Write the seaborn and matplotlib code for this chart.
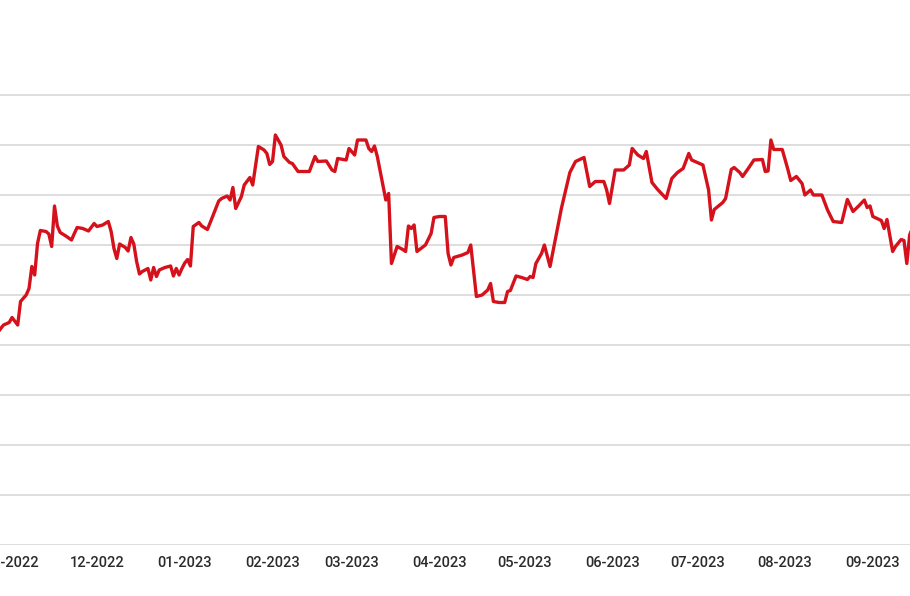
import pandas as pd
import matplotlib
matplotlib.use('Agg')
import matplotlib.pyplot as plt
import matplotlib.dates as mdates
import seaborn as sns

# closing values (arbitrary units, gridline step = 10)
dates = [
    '2022-10-27', '2022-10-28', '2022-10-29', '2022-10-31', '2022-11-01', '2022-11-03', '2022-11-04',
    '2022-11-06', '2022-11-07', '2022-11-08', '2022-11-09', '2022-11-10', '2022-11-11',
    '2022-11-13', '2022-11-14', '2022-11-15', '2022-11-16', '2022-11-17', '2022-11-18',
    '2022-11-20', '2022-11-22', '2022-11-23', '2022-11-24', '2022-11-26', '2022-11-28',
    '2022-11-30', '2022-12-01', '2022-12-03', '2022-12-05', '2022-12-06', '2022-12-07',
    '2022-12-08', '2022-12-09', '2022-12-11', '2022-12-12', '2022-12-13', '2022-12-14',
    '2022-12-15', '2022-12-16', '2022-12-17', '2022-12-19', '2022-12-20', '2022-12-21',
    '2022-12-22', '2022-12-23', '2022-12-25', '2022-12-27', '2022-12-28', '2022-12-29',
    '2022-12-30', '2022-12-31', '2023-01-01', '2023-01-02', '2023-01-03', '2023-01-04',
    '2023-01-06', '2023-01-07', '2023-01-09', '2023-01-10', '2023-01-13', '2023-01-14',
    '2023-01-16', '2023-01-17', '2023-01-18', '2023-01-19', '2023-01-21', '2023-01-22',
    '2023-01-24', '2023-01-25', '2023-01-27', '2023-01-29', '2023-01-30', '2023-01-31',
    '2023-02-01', '2023-02-02', '2023-02-04', '2023-02-05', '2023-02-07', '2023-02-08',
    '2023-02-10', '2023-02-14', '2023-02-16', '2023-02-17', '2023-02-20', '2023-02-22',
    '2023-02-23', '2023-02-24', '2023-02-27', '2023-02-28', '2023-03-02', '2023-03-03',
    '2023-03-06', '2023-03-07', '2023-03-08', '2023-03-09', '2023-03-10', '2023-03-13',
    '2023-03-14', '2023-03-15', '2023-03-17', '2023-03-19', '2023-03-20', '2023-03-21',
    '2023-03-22', '2023-03-23', '2023-03-24', '2023-03-27', '2023-03-29', '2023-03-30',
    '2023-04-01', '2023-04-03', '2023-04-04', '2023-04-05', '2023-04-06', '2023-04-09',
    '2023-04-11', '2023-04-12', '2023-04-14', '2023-04-16', '2023-04-18', '2023-04-19',
    '2023-04-20', '2023-04-22', '2023-04-24', '2023-04-25', '2023-04-26', '2023-04-28',
    '2023-04-30', '2023-05-02', '2023-05-03', '2023-05-04', '2023-05-05', '2023-05-07',
    '2023-05-08', '2023-05-10', '2023-05-12', '2023-05-14', '2023-05-17', '2023-05-19',
    '2023-05-22', '2023-05-24', '2023-05-26', '2023-05-29', '2023-05-30', '2023-05-31',
    '2023-06-02', '2023-06-05', '2023-06-07', '2023-06-08', '2023-06-10', '2023-06-12',
    '2023-06-13', '2023-06-15', '2023-06-17', '2023-06-20', '2023-06-22', '2023-06-24',
    '2023-06-26', '2023-06-28', '2023-06-29', '2023-07-03', '2023-07-05', '2023-07-06',
    '2023-07-07', '2023-07-10', '2023-07-11', '2023-07-13', '2023-07-14', '2023-07-16',
    '2023-07-17', '2023-07-19', '2023-07-21', '2023-07-24', '2023-07-25', '2023-07-26',
    '2023-07-27', '2023-07-28', '2023-07-31', '2023-08-02', '2023-08-03', '2023-08-05',
    '2023-08-07', '2023-08-08', '2023-08-10', '2023-08-11', '2023-08-14', '2023-08-16',
    '2023-08-18', '2023-08-21', '2023-08-23', '2023-08-25', '2023-08-27', '2023-08-29',
    '2023-08-30', '2023-08-31', '2023-09-01', '2023-09-04', '2023-09-05', '2023-09-06',
    '2023-09-08', '2023-09-09', '2023-09-11', '2023-09-12', '2023-09-13', '2023-09-14',
    '2023-09-15',
]
values = [
    42.5, 43.3, 44.0, 44.5, 45.5, 44.0, 48.7,
    50.0, 51.3, 55.7, 54.0, 60.3, 62.9,
    62.7, 62.2, 59.7, 67.8, 63.8, 62.5,
    61.8, 61.0, 62.3, 63.5, 63.3, 62.8,
    64.3, 63.7, 64.0, 64.7, 62.7, 59.3,
    57.3, 60.2, 59.5, 58.8, 61.5, 60.2,
    56.7, 54.2, 54.7, 55.3, 53.0, 55.5,
    53.7, 55.0, 55.5, 55.8, 53.8, 55.3,
    54.0, 55.3, 56.4, 57.1, 55.8, 63.7,
    64.5, 63.8, 63.1, 64.5, 68.8, 69.3,
    69.8, 69.0, 71.5, 67.3, 69.7, 72.0,
    73.5, 72.0, 79.7, 79.0, 78.3, 76.1,
    76.7, 82.0, 80.0, 77.7, 76.5, 76.3,
    74.7, 74.7, 77.7, 76.7, 76.8, 75.0,
    74.7, 77.3, 77.0, 79.3, 78.0, 81.0,
    81.0, 79.3, 78.7, 79.8, 77.7, 69.0,
    70.3, 56.3, 59.7, 59.1, 58.7, 63.8,
    63.3, 64.0, 58.7, 60.0, 62.3, 65.5,
    65.7, 65.7, 58.3, 56.0, 57.5, 58.0,
    58.5, 60.0, 49.7, 50.0, 51.0, 52.3,
    48.7, 48.5, 48.5, 50.7, 50.9, 53.8,
    53.5, 53.1, 53.7, 53.5, 56.3, 58.3,
    60.0, 55.7, 61.5, 67.3, 74.5, 76.7,
    77.5, 71.7, 72.7, 72.7, 71.0, 68.3,
    75.0, 75.0, 76.0, 79.3, 78.0, 77.3,
    78.7, 72.5, 71.1, 69.3, 73.3, 74.5,
    75.3, 78.3, 77.0, 76.0, 71.0, 65.0,
    67.1, 68.5, 69.3, 75.1, 75.5, 74.5,
    73.7, 75.3, 77.0, 77.1, 74.7, 74.8,
    81.0, 79.1, 79.1, 75.1, 72.9, 73.7,
    72.3, 70.0, 71.0, 70.0, 70.0, 67.0,
    64.7, 64.5, 69.1, 66.7, 67.8, 69.0,
    67.5, 67.8, 65.7, 64.9, 63.3, 65.1,
    58.7, 59.7, 61.1, 60.9, 56.3, 62.0,
    63.5,
]

x_left = '2022-10-27 18:00'
x_right = '2023-09-14 03:00'
grid_levels = [0, 10, 20, 30, 40, 50, 60, 70, 80, 90]

df = pd.DataFrame({'date': pd.to_datetime(dates), 'value': values})

sns.set_style('white')
plt.rcParams['font.family'] = ['Roboto', 'DejaVu Sans']

fig = plt.figure(figsize=(9.1, 5.96), dpi=100)
ax = fig.add_axes([0, 0.0856, 1, 0.8389])

sns.lineplot(data=df, x='date', y='value', color='#d5111c', linewidth=2.4, ax=ax)

ax.set_xlim(pd.Timestamp(x_left), pd.Timestamp(x_right))
ax.set_ylim(0, 100)
ax.set_yticks(grid_levels)
ax.yaxis.grid(True, color='#dedede', linewidth=1.4)
ax.xaxis.grid(False)
ax.set_axisbelow(True)
ax.tick_params(axis='y', left=False, labelleft=False)
ax.tick_params(axis='x', bottom=False, pad=4.5, labelsize=10.5, labelcolor='#2b2b2b')

ax.xaxis.set_major_locator(mdates.MonthLocator())
ax.xaxis.set_major_formatter(mdates.DateFormatter('%m-%Y'))
for lbl in ax.get_xticklabels():
    lbl.set_fontweight('medium')

ax.set_xlabel('')
ax.set_ylabel('')
for s in ax.spines.values():
    s.set_visible(False)

fig.savefig('out.png', dpi=100)
